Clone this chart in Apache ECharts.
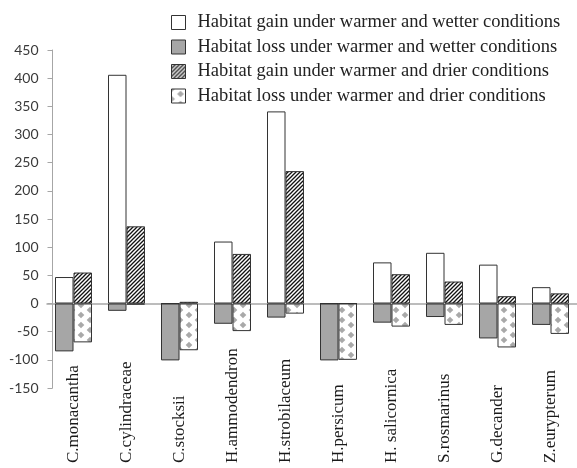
<!DOCTYPE html>
<html>
<head>
<meta charset="utf-8">
<script src="https://cdn.jsdelivr.net/npm/echarts@6/dist/echarts.min.js"></script>
<style>html,body{margin:0;padding:0;background:#fff}#c{width:577px;height:468px}</style>
</head>
<body>
<div id="c"></div>
<script>
const categories = ["C.monacantha","C.cylindraceae","C.stocksii","H.ammodendron","H.strobilaceum","H.persicum","H. salicornica","S.rosmarinus","G.decander","Z.eurypterum"];
const seriesNames = ["Habitat gain under warmer and wetter conditions","Habitat loss under warmer and wetter conditions","Habitat gain under warmer and drier conditions","Habitat loss under warmer and drier conditions"];
const wetGain = [47, 406, 0, 110, 341, 0, 73, 90, 69, 29];
const wetLoss = [-85, -13, -101, -36, -25, -101, -34, -24, -62, -38];
const dryGain = [55, 137, 3, 88, 235, 0, 52, 39, 13, 18];
const dryLoss = [-69, -2, -83, -49, -18, -100, -41, -38, -78, -54];
const yTicks = {min: -150, max: 450, interval: 50};

function hatchPattern() {
  const c = document.createElement('canvas');
  c.width = 4; c.height = 4;
  const g = c.getContext('2d');
  g.fillStyle = '#fff'; g.fillRect(0,0,4,4);
  g.strokeStyle = '#111'; g.lineWidth = 1.3;
  g.beginPath();
  g.moveTo(-1,5); g.lineTo(5,-1);
  g.moveTo(-1,1); g.lineTo(1,-1);
  g.moveTo(3,5); g.lineTo(5,3);
  g.stroke();
  return c;
}
function dotPattern() {
  const c = document.createElement('canvas');
  c.width = 18; c.height = 10;
  const g = c.getContext('2d');
  g.fillStyle = '#fff'; g.fillRect(0,0,18,10);
  g.fillStyle = '#a9a9a9';
  const pts = [[9,5],[0,0],[18,0],[0,10],[18,10]];
  const r = 3.3;
  pts.forEach(p => {
    g.beginPath();
    g.moveTo(p[0], p[1]-r); g.lineTo(p[0]+r, p[1]); g.lineTo(p[0], p[1]+r); g.lineTo(p[0]-r, p[1]);
    g.closePath(); g.fill();
  });
  return c;
}

const chart = echarts.init(document.getElementById('c'), null, {renderer: 'canvas'});
const border = {borderColor: '#333', borderWidth: 1};
const serif = 'Liberation Serif';
chart.setOption({
  animation: false,
  backgroundColor: '#fff',
  grid: {left: 47, top: 50, width: 538, height: 338, containLabel: false},
  legend: {
    orient: 'vertical', left: 166, top: 8, icon: 'rect', padding: 5,
    itemWidth: 14, itemHeight: 14, itemGap: 5.5,
    textStyle: {fontFamily: serif, fontSize: 18.5, color: '#222', lineHeight: 18, padding: [0,0,0,7]},
    itemStyle: {borderColor: '#333', borderWidth: 1}
  },
  xAxis: [{
    type: 'category', data: categories, position: 'bottom',
    axisLine: {show: false, onZero: false}, axisTick: {show: false},
    axisLabel: {rotate: 90, align: 'left', verticalAlign: 'middle', margin: 75, interval: 0,
      padding: [8,0,0,0], fontFamily: serif, fontSize: 17, color: '#1a1a1a'}
  }, {
    type: 'category', data: categories, position: 'bottom',
    axisLine: {show: true, onZero: true, lineStyle: {color: '#a6a6a6', width: 1.5}},
    axisTick: {show: false}, axisLabel: {show: false}
  }],
  yAxis: {
    type: 'value', min: yTicks.min, max: yTicks.max, interval: yTicks.interval, offset: -5.5,
    axisLine: {show: true, lineStyle: {color: '#a6a6a6'}},
    axisTick: {show: true, length: 5, lineStyle: {color: '#a6a6a6'}},
    splitLine: {show: false},
    axisLabel: {margin: 14, fontFamily: 'Lato', fontSize: 14, color: '#3a3a3a'}
  },
  series: [
    {name: seriesNames[0], type: 'bar', stack: 'wet', data: wetGain, barWidth: 18.5, barGap: '0%',
      itemStyle: Object.assign({color: '#fff'}, border)},
    {name: seriesNames[1], type: 'bar', stack: 'wet', data: wetLoss, barWidth: 18.5, barGap: '0%',
      itemStyle: Object.assign({color: '#a6a6a6'}, border)},
    {name: seriesNames[2], type: 'bar', stack: 'dry', data: dryGain, barWidth: 18.5, barGap: '0%',
      itemStyle: Object.assign({color: {image: hatchPattern(), repeat: 'repeat'}}, border)},
    {name: seriesNames[3], type: 'bar', stack: 'dry', data: dryLoss, barWidth: 18.5, barGap: '0%',
      itemStyle: Object.assign({color: {image: dotPattern(), repeat: 'repeat'}}, border)}
  ]
});
</script>
</body>
</html>
